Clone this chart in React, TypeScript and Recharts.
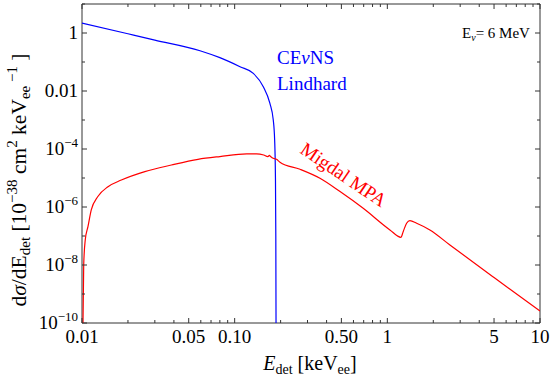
import React from "react";
import { LineChart, Line, XAxis, YAxis, ReferenceArea } from "recharts";

// CEvNS (Lindhard) curve
const cevnsE = [0.01, 0.02, 0.03, 0.0593, 0.08, 0.1084, 0.1325, 0.154, 0.17, 0.179, 0.1828, 0.185, 0.186, 0.1866];
const cevnsXs = [2.21, 0.94, 0.57, 0.245, 0.141, 0.0689, 0.0407, 0.0141, 0.0038, 0.001, 2.0e-4, 1e-5, 1e-7, 1e-10];

// Migdal MPA curve
const migdalE = [
  0.01015, 0.01026, 0.0105, 0.01094, 0.0115, 0.0127, 0.0148, 0.0181, 0.0258, 0.0385, 0.0575, 0.08, 0.12, 0.139,
  0.155, 0.165, 0.169, 0.172, 0.176, 0.188, 0.198, 0.268, 0.362, 0.49, 0.695, 1.04, 1.227, 1.27, 1.337, 1.406,
  1.556, 1.9, 2.57, 5, 10,
];
const migdalXs = [
  1e-10, 1e-8, 7.2e-8, 2.1e-7, 7.9e-7, 2.3e-6, 5.0e-6, 8.5e-6, 1.66e-5, 2.8e-5, 4.4e-5, 5.5e-5, 6.8e-5, 6.8e-5,
  6.2e-5, 5.5e-5, 6.0e-5, 5.5e-5, 5.0e-5, 4.4e-5, 3.5e-5, 2.0e-5, 9.8e-6, 3.4e-6, 9.0e-7, 1.62e-7, 9.0e-8, 1.41e-7,
  2.75e-7, 3.4e-7, 2.75e-7, 1.62e-7, 4.9e-8, 3.7e-9, 2.6e-10,
];

// axes
const xMajor = [0.01, 0.05, 0.1, 0.5, 1, 5, 10];
const xMajorLabels = ["0.01", "0.05", "0.10", "0.50", "1", "5", "10"];
const xMinor = [0.02, 0.03, 0.04, 0.06, 0.07, 0.08, 0.09, 0.2, 0.3, 0.4, 0.6, 0.7, 0.8, 0.9, 2, 3, 4, 6, 7, 8, 9];
const yMajor = [1e-10, 1e-8, 1e-6, 1e-4, 1e-2, 1];
const yMajorLabels: [string, string][] = [["10", "−10"], ["10", "−8"], ["10", "−6"], ["10", "−4"], ["0.01", ""], ["1", ""]];
const yMinor = [1e-9, 1e-7, 1e-5, 1e-3, 0.1, 10];

const cevnsData = cevnsE.map((x, i) => ({ x, y: cevnsXs[i] }));
const migdalData = migdalE.map((x, i) => ({ x, y: migdalXs[i] }));

const W = 550;
const H = 386;
const M = { top: 4, right: 10, bottom: 0, left: 0 };
const Y_W = 82;
const X_H = 63;
const TOP = M.top;
const BOTTOM = H - X_H;
const LEFT = Y_W;
const RIGHT = W - M.right;
const FONT = "'Liberation Serif', 'DejaVu Serif', serif";
const FRAME = "#333";

function XTick(props: any) {
  const { x, payload } = props;
  const v = payload.value;
  const i = xMajor.indexOf(v);
  const len = i >= 0 ? 5 : 3;
  return (
    <g>
      <line x1={x} x2={x} y1={BOTTOM} y2={BOTTOM - len} stroke={FRAME} />
      <line x1={x} x2={x} y1={TOP} y2={TOP + len} stroke={FRAME} />
      {i >= 0 && (
        <text x={x} y={BOTTOM + 20} textAnchor="middle" fontSize={19} fontFamily={FONT} fill="#000">
          {xMajorLabels[i]}
        </text>
      )}
    </g>
  );
}

function YTick(props: any) {
  const { y, payload } = props;
  const v = payload.value;
  const i = yMajor.indexOf(v);
  const len = i >= 0 ? 5 : 3;
  return (
    <g>
      <line x1={LEFT} x2={LEFT + len} y1={y} y2={y} stroke={FRAME} />
      <line x1={RIGHT} x2={RIGHT - len} y1={y} y2={y} stroke={FRAME} />
      {i >= 0 && (
        <text x={LEFT - 4} y={y + 6} textAnchor="end" fontSize={19} fontFamily={FONT} fill="#000">
          {yMajorLabels[i][0]}
          {yMajorLabels[i][1] && (
            <tspan dy={-8} fontSize={13}>
              {yMajorLabels[i][1]}
            </tspan>
          )}
        </text>
      )}
    </g>
  );
}

export default function App() {
  return (
    <div style={{ position: "absolute", left: 0, top: 0, width: W, height: H, background: "#fff" }}>
      <LineChart width={W} height={H} margin={M}>
        <XAxis
          dataKey="x"
          type="number"
          scale="log"
          domain={[0.01, 10]}
          allowDataOverflow
          ticks={[...xMajor, ...xMinor]}
          interval={0}
          tick={XTick}
          tickLine={false}
          axisLine={false}
          height={X_H}
        />
        <YAxis
          type="number"
          scale="log"
          domain={[1e-10, 10]}
          allowDataOverflow
          ticks={[...yMajor, ...yMinor]}
          interval={0}
          tick={YTick}
          tickLine={false}
          axisLine={false}
          width={Y_W}
        />
        <ReferenceArea x1={0.01} x2={10} y1={1e-10} y2={10} fill="none" stroke={FRAME} ifOverflow="visible" />
        <Line
          data={cevnsData}
          dataKey="y"
          type="monotone"
          stroke="#0000ff"
          strokeWidth={1.2}
          dot={false}
          isAnimationActive={false}
        />
        <Line
          data={migdalData}
          dataKey="y"
          type="monotone"
          stroke="#ff0000"
          strokeWidth={1.2}
          dot={false}
          isAnimationActive={false}
        />
      </LineChart>
      <svg width={W} height={H} style={{ position: "absolute", left: 0, top: 0, pointerEvents: "none" }} fontFamily={FONT}>
        <text x={277} y={64} fontSize={19} fill="#0000ff">
          CE<tspan fontStyle="italic">ν</tspan>NS
        </text>
        <text x={277} y={90} fontSize={19} fill="#0000ff">
          Lindhard
        </text>
        <text x={340} y={180} fontSize={19} fill="#ff0000" textAnchor="middle" transform="rotate(34 340 180)">
          Migdal MPA
        </text>
        <text x={462} y={38} fontSize={15} fill="#000">
          E<tspan dy={3} fontSize={10} fontStyle="italic">ν</tspan>
          <tspan dy={-3}>= 6 MeV</tspan>
        </text>
        <text x={310} y={370} fontSize={20} textAnchor="middle" fill="#000">
          <tspan fontStyle="italic">E</tspan>
          <tspan dy={4} fontSize={14}>det</tspan>
          <tspan dy={-4}> [keV</tspan>
          <tspan dy={4} fontSize={14}>ee</tspan>
          <tspan dy={-4}>]</tspan>
        </text>
        <text x={-180} y={26} fontSize={21.5} textAnchor="middle" fill="#000" transform="rotate(-90)">
          d<tspan fontStyle="italic">σ</tspan>/dE
          <tspan dy={4} fontSize={15}>det</tspan>
          <tspan dy={-4}> [10</tspan>
          <tspan dy={-9} fontSize={15}>−38</tspan>
          <tspan dy={9}> cm</tspan>
          <tspan dy={-9} fontSize={15}>2</tspan>
          <tspan dy={9}> keV</tspan>
          <tspan dy={4} fontSize={15}>ee</tspan>
          <tspan dy={-13} fontSize={15}> −1</tspan>
          <tspan dy={9}> ]</tspan>
        </text>
      </svg>
    </div>
  );
}
